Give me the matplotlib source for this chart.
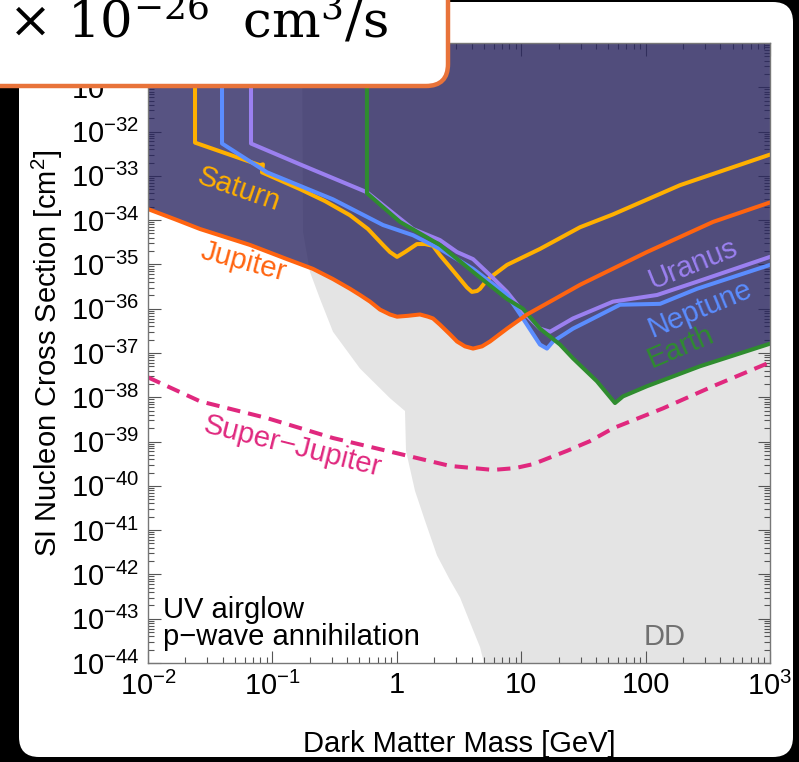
import numpy as np
import matplotlib
matplotlib.use("Agg")
import matplotlib.pyplot as plt
from matplotlib.patches import FancyBboxPatch
from matplotlib.ticker import LogLocator, FixedLocator, FixedFormatter, NullFormatter

plt.rcParams['font.family'] = ['Liberation Sans', 'DejaVu Sans']
plt.rcParams['mathtext.default'] = 'regular'

# ---- data: log10(mass / GeV) and log10(sigma / cm^2) ----
jupiter_logm = [-2.0, -1.783, -1.582, -1.381, -1.180, -0.883, -0.674, -0.513, -0.376, -0.296,
                -0.215, -0.135, -0.055, 0.002, 0.090, 0.186, 0.251, 0.291, 0.347, 0.428,
                0.484, 0.548, 0.613, 0.685, 0.749, 0.886, 1.047, 1.232, 1.473, 2.011, 2.542, 3.0]
jupiter_logsig = [-33.75, -33.98, -34.20, -34.38, -34.56, -34.88, -35.10, -35.33, -35.55, -35.69,
                  -35.84, -36.02, -36.13, -36.18, -36.16, -36.13, -36.18, -36.22, -36.36, -36.58,
                  -36.74, -36.85, -36.90, -36.85, -36.74, -36.45, -36.13, -35.84, -35.46, -34.72, -34.04, -33.60]

saturn_logm = [-1.622, -1.622, -1.100, -1.076, -1.084, -0.778, -0.577, -0.376, -0.232, -0.111,
               -0.055, 0.002, 0.066, 0.162, 0.227, 0.291, 0.347, 0.428, 0.508, 0.564,
               0.604, 0.645, 0.669, 0.725, 0.886, 1.151, 1.473, 1.738, 2.277, 3.0]
saturn_logsig = [-30.0, -32.25, -32.76, -32.74, -32.92, -33.30, -33.57, -33.89, -34.20, -34.56,
                 -34.72, -34.83, -34.72, -34.54, -34.54, -34.58, -34.79, -35.06, -35.33, -35.52,
                 -35.62, -35.60, -35.55, -35.35, -35.01, -34.65, -34.16, -33.87, -33.21, -32.52]

neptune_logm = [-1.405, -1.405, -1.043, -0.513, -0.111, 0.130, 0.347, 0.613, 0.886, 1.014,
                1.151, 1.207, 1.256, 1.416, 1.529, 1.794, 2.116, 2.413, 3.0]
neptune_logsig = [-30.0, -32.27, -32.92, -33.53, -34.11, -34.34, -34.65, -35.10, -35.69, -36.22,
                  -36.81, -36.90, -36.74, -36.45, -36.29, -35.91, -35.89, -35.55, -35.01]

uranus_logm = [-1.172, -1.172, -0.778, -0.240, 0.130, 0.347, 0.484, 0.613, 0.749, 0.886,
               1.014, 1.151, 1.232, 1.416, 1.738, 2.092, 2.413, 3.0]
uranus_logsig = [-30.0, -32.27, -32.74, -33.37, -34.20, -34.45, -34.72, -34.88, -35.24, -35.62,
                 -36.07, -36.45, -36.52, -36.22, -35.84, -35.69, -35.39, -34.83]

earth_logm = [-0.240, -0.240, 0.026, 0.347, 0.613, 0.886, 1.014, 1.151, 1.232, 1.312,
              1.416, 1.609, 1.754, 1.818, 2.011, 2.437, 3.0]
earth_logsig = [-30.0, -33.39, -34.04, -34.56, -35.17, -35.78, -36.00, -36.45, -36.63, -36.81,
                -37.12, -37.64, -38.13, -37.98, -37.75, -37.30, -36.79]

superjup_logm = [-2.0, -1.582, -1.043, -0.513, 0.026, 0.428, 0.773, 0.950, 1.095, 1.368,
                 1.553, 1.738, 2.140, 2.542, 3.0]
superjup_logsig = [-37.55, -38.09, -38.47, -38.92, -39.28, -39.55, -39.64, -39.60, -39.51, -39.21,
                   -38.99, -38.70, -38.25, -37.75, -37.21]

dd_logm = [-0.762, -0.754, -0.698, -0.617, -0.513, -0.296, -0.055, 0.066, 0.074, 0.146,
           0.227, 0.323, 0.428, 0.508, 0.588, 0.669, 0.701]
dd_logsig = [-30.0, -34.27, -35.17, -35.78, -36.52, -37.35, -38.02, -38.31, -39.21, -40.11,
             -40.79, -41.57, -42.13, -42.52, -43.08, -43.64, -44.0]

x_ticks = [1e-2, 1e-1, 1, 10, 100, 1e3]
x_ticklabels = [r'$10^{-2}$', r'$10^{-1}$', '1', '10', '100', r'$10^{3}$']
y_exps = list(range(-44, -29))

XMIN, XMAX, YMIN, YMAX = 1e-2, 1e3, 1e-44, 1e-30

C_FILL = (40/255, 35/255, 95/255)
C_DD = '#E4E4E4'
C_JUP = '#FF6410'
C_SAT = '#FFB000'
C_NEP = '#5B8DFF'
C_URA = '#9B80F0'
C_EAR = '#2F8C2F'
C_SJ = '#E0287E'
FS = 21

fig = plt.figure(figsize=(7.99, 7.62), dpi=100, facecolor='black')

# rounded white panel on black background
bg = fig.add_axes([0, 0, 1, 1], zorder=0)
bg.set_xlim(0, 799); bg.set_ylim(762, 0); bg.axis('off')
bg.add_patch(FancyBboxPatch((19, 2), 774, 755, boxstyle='round,pad=0,rounding_size=20',
                            fc='white', ec='none'))

W, H = 799, 762
L, R, T, B = 148, 770, 43, 663
ax = fig.add_axes([L / W, (H - B) / H, (R - L) / W, (B - T) / H], zorder=1)
ax.set_facecolor('white')
ax.set_xscale('log'); ax.set_yscale('log')
ax.set_xlim(XMIN, XMAX); ax.set_ylim(YMIN, YMAX)

# direct-detection region
dd_x = np.r_[10.0 ** np.array(dd_logm), XMAX, XMAX]
dd_y = np.r_[10.0 ** np.array(dd_logsig), YMIN, YMAX]
ax.fill(dd_x, dd_y, color=C_DD, lw=0, zorder=1)

# excluded region: everything above the lowest planetary bound
grid = np.linspace(-2, 3, 4001)
env = np.full_like(grid, -30.0)
for lm, ls in [(jupiter_logm, jupiter_logsig), (saturn_logm, saturn_logsig),
               (neptune_logm, neptune_logsig), (uranus_logm, uranus_logsig),
               (earth_logm, earth_logsig)]:
    lm = np.array(lm); ls = np.array(ls)
    if ls[0] == -30.0:
        lm, ls = lm[1:], ls[1:]
    order = np.argsort(lm, kind='stable')
    env = np.minimum(env, np.interp(grid, lm[order], ls[order], left=-30.0))
ax.fill_between(10 ** grid, 10 ** env, YMAX, color=C_FILL, alpha=0.78, lw=0, zorder=2)

lw = 2.9
for lm, ls, c in [(saturn_logm, saturn_logsig, C_SAT), (uranus_logm, uranus_logsig, C_URA),
                  (neptune_logm, neptune_logsig, C_NEP), (earth_logm, earth_logsig, C_EAR),
                  (jupiter_logm, jupiter_logsig, C_JUP)]:
    ax.plot(10 ** np.array(lm), 10 ** np.array(ls), color=c, lw=lw, zorder=3,
            solid_joinstyle='round', solid_capstyle='round')
ax.plot(10 ** np.array(superjup_logm), 10 ** np.array(superjup_logsig), color=C_SJ, lw=lw,
        ls=(0, (3.3, 2.0)), zorder=3)


def px(xp, yp):
    return (xp - L) / (R - L), (B - yp) / (B - T)


def label(xp, yp, s, c, rot):
    ax.text(*px(xp, yp), s, color=c, fontsize=FS, rotation=rot, rotation_mode='anchor',
            ha='center', va='center', transform=ax.transAxes, zorder=4)


label(239, 189, 'Saturn', C_SAT, -19)
label(243, 262, 'Jupiter', C_JUP, -15)
label(293, 446, 'Super\u2212Jupiter', C_SJ, -14)
label(693, 264, 'Uranus', C_URA, 22)
label(700, 309, 'Neptune', C_NEP, 22.5)
label(681, 347, 'Earth', C_EAR, 23)

ax.text(*px(163, 618), 'UV airglow', fontsize=FS, color='black', ha='left', va='baseline',
        transform=ax.transAxes, zorder=4)
ax.text(*px(163, 645), 'p\u2212wave annihilation', fontsize=FS, color='black', ha='left',
        va='baseline', transform=ax.transAxes, zorder=4)
ax.text(*px(665, 645), 'DD', fontsize=FS, color='#707070', ha='center', va='baseline',
        transform=ax.transAxes, zorder=4)

# ticks
ax.xaxis.set_major_locator(FixedLocator(x_ticks))
ax.xaxis.set_major_formatter(FixedFormatter(x_ticklabels))
ax.xaxis.set_minor_locator(LogLocator(base=10, subs=np.arange(2, 10), numticks=50))
ax.xaxis.set_minor_formatter(NullFormatter())
ax.yaxis.set_major_locator(FixedLocator([10.0 ** e for e in y_exps]))
ax.yaxis.set_major_formatter(FixedFormatter([r'$10^{%d}$' % e for e in y_exps]))
ax.yaxis.set_minor_locator(LogLocator(base=10, subs=np.arange(2, 10), numticks=50))
ax.yaxis.set_minor_formatter(NullFormatter())
ax.tick_params(which='both', direction='in', top=True, right=True, color='#555555',
               labelsize=FS, width=0.8)
ax.tick_params(which='major', length=9, pad=6)
ax.tick_params(which='minor', length=4.5)
for s in ax.spines.values():
    s.set_color('#777777'); s.set_linewidth(1.0); s.set_zorder(5)

ax.set_xlabel('Dark Matter Mass [GeV]', fontsize=FS, labelpad=21)
ax.set_ylabel(r'SI Nucleon Cross Section [cm$^2$]', fontsize=FS, labelpad=4)

# annotation box with the annihilation cross section
ov = fig.add_axes([0, 0, 1, 1], zorder=3)
ov.set_xlim(0, 799); ov.set_ylim(762, 0); ov.axis('off'); ov.patch.set_alpha(0)
ov.add_patch(FancyBboxPatch((-40, -40), 488, 126, boxstyle='round,pad=0,rounding_size=22',
                            fc='white', ec='#E8733A', lw=3.2))
ov.text(8, 37, r'$\times\ 10^{-26}\ \ cm^{3}/s$', fontsize=37, color='black',
        family='DejaVu Serif', math_fontfamily='dejavuserif', ha='left', va='baseline')

fig.savefig('out.png', dpi=100, facecolor='black')
